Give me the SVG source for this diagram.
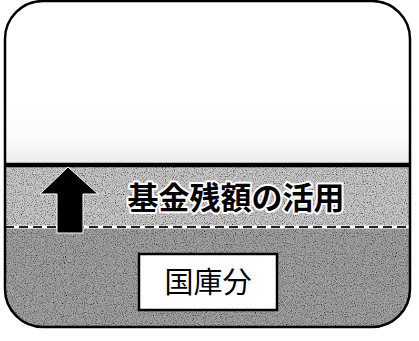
<svg xmlns="http://www.w3.org/2000/svg" width="419" height="341" viewBox="0 0 419 341">
  <defs>
    <clipPath id="frame">
      <rect x="5" y="1" width="405" height="326" rx="38" ry="38"/>
    </clipPath>
    <linearGradient id="haze" x1="0" y1="0" x2="0" y2="1">
      <stop offset="0" stop-color="#ffffff"/>
      <stop offset="0.6" stop-color="#fafafa"/>
      <stop offset="1" stop-color="#ececec"/>
    </linearGradient>
    <filter id="grain" x="0" y="0" width="1" height="1">
      <feTurbulence type="fractalNoise" baseFrequency="0.9" numOctaves="2" seed="3" result="n"/>
      <feColorMatrix in="n" type="matrix" values="0 0 0 0 0  0 0 0 0 0  0 0 0 0 0  0 0 0 -2.2 1.25" result="dots"/>
      <feComposite in="dots" in2="SourceGraphic" operator="in" result="d2"/>
      <feMerge><feMergeNode in="SourceGraphic"/><feMergeNode in="d2"/></feMerge>
    </filter>
  </defs>
  <style>
    .frame { fill: none; stroke: #000; stroke-width: 2.5; }
    .label { font-family: "Noto Sans CJK JP", "Noto Sans CJK SC", sans-serif; }
    .big { font-size: 31px; font-weight: bold; fill: #000; stroke: #fff; stroke-width: 4; paint-order: stroke; stroke-linejoin: round; }
    .box { fill: #fff; stroke: #000; stroke-width: 2.5; }
    .boxtext { font-size: 29px; fill: #000; }
  </style>
  <g id="background" clip-path="url(#frame)">
    <rect x="0" y="0" width="419" height="165" fill="#ffffff"/>
    <rect x="0" y="100" width="419" height="65" fill="url(#haze)"/>
    <rect x="0" y="165" width="419" height="62" fill="#c9c9c9" filter="url(#grain)"/>
    <rect x="0" y="227" width="419" height="114" fill="#a2a2a2" filter="url(#grain)"/>
  </g>
  <g id="connectors">
    <line x1="5" y1="165" x2="410" y2="165" stroke="#000" stroke-width="4.5"/>
    <line x1="5" y1="227" x2="410" y2="227" stroke="#fff" stroke-width="3"/>
    <line x1="5" y1="227" x2="410" y2="227" stroke="#222" stroke-width="2" stroke-dasharray="9,5"/>
  </g>
  <g id="arrow">
    <polygon points="68,167 98,194 83,194 83,233 57,233 57,194 40,194" fill="#000" stroke="#fff" stroke-width="1"/>
  </g>
  <g id="fund-label">
    <text class="label big" x="236" y="209" text-anchor="middle">基金残額の活用</text>
  </g>
  <g id="treasury">
    <rect class="box" x="139" y="254" width="138" height="56"/>
    <text class="label boxtext" x="208" y="293" text-anchor="middle">国庫分</text>
  </g>
  <rect class="frame" x="5" y="1" width="405" height="326" rx="38" ry="38"/>
</svg>
